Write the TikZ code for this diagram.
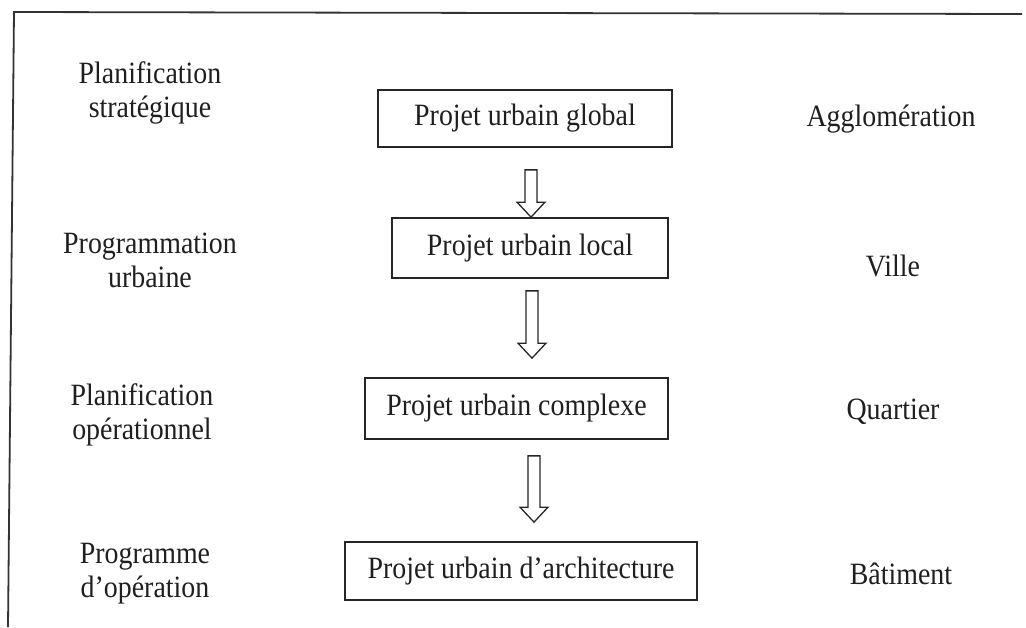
\documentclass[tikz,border=0pt]{standalone}
\usepackage{fontspec}
\setmainfont{Liberation Serif}[FakeStretch=0.9]
\usetikzlibrary{calc}
% hollow block arrow pointing down, from the top of its shaft (#1) to its tip (#2)
\newcommand\hollowdown[2]{%
  \draw[hollowarrow] let \p1=(#1), \p2=(#2) in
    (\x1-6pt,\y1) -- (\x1-6pt,\y2+15pt) -- (\x1-14pt,\y2+15pt) -- (\x1,\y2)
    -- (\x1+14pt,\y2+15pt) -- (\x1+6pt,\y2+15pt) -- (\x1+6pt,\y1) -- cycle;}
\begin{document}
\begin{tikzpicture}[x=1pt,y=1pt,
  every node/.style={font=\fontsize{31}{34}\selectfont, text=black!88},
  levelbox/.style={draw=black!85, line width=1.7pt, inner sep=0pt},
  sidelabel/.style={align=center},
  framerule/.style={draw=black!80, line width=1.8pt},
  hollowarrow/.style={draw=black!85, line width=1.3pt, line join=miter}]
\useasboundingbox (0,0) rectangle (1026,-627);

% frame (top and left edges)
\draw[framerule] (1022,-14) -- (14,-12) -- (8,-627);

% project levels
\node[levelbox, minimum width=294pt, minimum height=57pt] (b1) at (525,-118.5) {Projet urbain global};
\node[levelbox, minimum width=276pt, minimum height=60pt] (b2) at (530,-248) {Projet urbain local};
\node[levelbox, minimum width=303pt, minimum height=61pt] (b3) at (516.5,-408.5) {Projet urbain complexe};
\node[levelbox, minimum width=352pt, minimum height=58pt] (b4) at (521,-571) {Projet urbain d’architecture};

% planning levels
\node[sidelabel] (l1) at (150,-93) {Planification\\stratégique};
\node[sidelabel] (l2) at (150,-260) {Programmation\\urbaine};
\node[sidelabel] (l3) at (142,-415) {Planification\\opérationnel};
\node[sidelabel] (l4) at (145,-574) {Programme\\d’opération};

% spatial scales
\node (r1) at (891,-119) {Agglomération};
\node (r2) at (893,-266) {Ville};
\node (r3) at (893,-412) {Quartier};
\node (r4) at (901,-574) {Bâtiment};

% arrows between levels
\coordinate (s1) at ($(b1.south)+(6,-22)$);
\coordinate (t1) at (s1 |- b2.north);
\coordinate (s2) at ($(b2.south)+(2,-12)$);
\coordinate (t2) at ($(s2 |- b3.north)+(0,19)$);
\coordinate (s3) at ($(b3.south)+(17.5,-16)$);
\coordinate (t3) at ($(s3 |- b4.north)+(0,19)$);
\hollowdown{s1}{t1}
\hollowdown{s2}{t2}
\hollowdown{s3}{t3}
\end{tikzpicture}
\end{document}
